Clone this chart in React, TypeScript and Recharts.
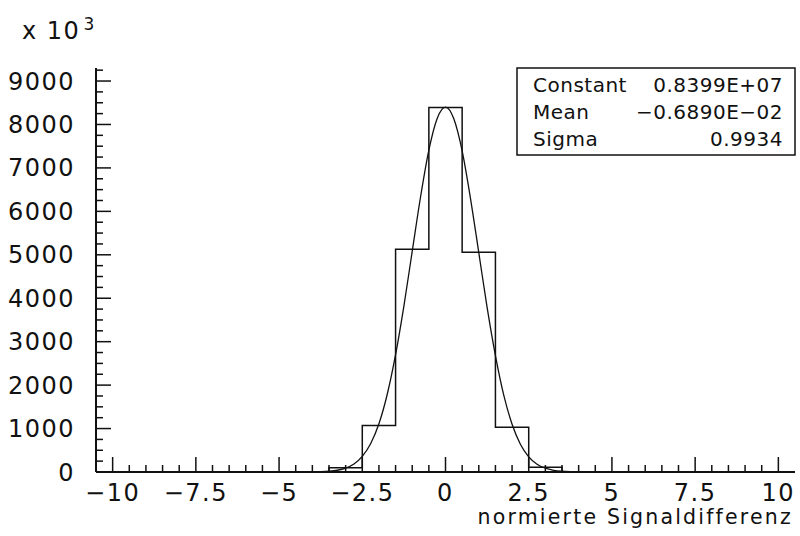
import { Line, LineChart, XAxis, YAxis } from 'recharts';

// histogram bins (width 1), counts in units of 10^3
const binEdges = [-3.5, -2.5, -1.5, -0.5, 0.5, 1.5, 2.5, 3.5];
const binCounts = [100, 1070, 5130, 8390, 5060, 1030, 110];

// gaussian fit curve
const fitX = [
  -4, -3.75, -3.5, -3.25, -3, -2.75, -2.5, -2.25, -2, -1.75, -1.5, -1.25, -1,
  -0.75, -0.5, -0.25, 0, 0.25, 0.5, 0.75, 1, 1.25, 1.5, 1.75, 2, 2.25, 2.5,
  2.75, 3, 3.25, 3.5, 3.75, 4,
];
const fitY = [
  3, 7, 17, 40, 90, 185, 360, 650, 1110, 1790, 2700, 3820, 5080, 6330, 7410,
  8140, 8399, 8130, 7390, 6300, 5050, 3790, 2680, 1770, 1100, 640, 350, 180,
  87, 39, 17, 7, 3,
];

const xMajor = [-10, -7.5, -5, -2.5, 0, 2.5, 5, 7.5, 10];
const yMajor = [0, 1000, 2000, 3000, 4000, 5000, 6000, 7000, 8000, 9000];
const xMinorStep = 0.5;
const yMinorStep = 250;

const statsRows = [
  ['Constant', '0.8399E+07'],
  ['Mean', '\u22120.6890E\u221202'],
  ['Sigma', '0.9934'],
];

const FONT = '"DejaVu Sans", sans-serif';
const INK = '#111';

const histData = [
  { x: binEdges[0], y: 0 },
  ...binCounts.map((c, i) => ({ x: binEdges[i], y: c })),
  { x: binEdges[binEdges.length - 1], y: 0 },
];
const fitData = fitX.map((x, i) => ({ x, y: fitY[i] }));

const xTicks = Array.from({ length: 41 }, (_, i) => -10 + i * xMinorStep);
const yTicks = Array.from({ length: 38 }, (_, i) => i * yMinorStep);

const fmt = (v: number) => (v < 0 ? '\u2212' + String(-v) : String(v));

function XTick(props: any) {
  const { x, y, payload } = props;
  const major = xMajor.includes(payload.value);
  return (
    <g>
      <line x1={x} x2={x} y1={y} y2={y - (major ? 15 : 7)} stroke={INK} strokeWidth={1.5} />
      {major && (
        <text x={x} y={y + 29} textAnchor="middle" fontFamily={FONT} fontSize={24} letterSpacing={1.5} fill={INK}>
          {fmt(payload.value)}
        </text>
      )}
    </g>
  );
}

function YTick(props: any) {
  const { x, y, payload } = props;
  const major = yMajor.includes(payload.value);
  return (
    <g>
      <line x1={x} x2={x + (major ? 15 : 7)} y1={y} y2={y} stroke={INK} strokeWidth={1.5} />
      {major && (
        <text x={x - 21} y={y + 8.5} textAnchor="end" fontFamily={FONT} fontSize={24} letterSpacing={1.5} fill={INK}>
          {payload.value}
        </text>
      )}
    </g>
  );
}

export default function App() {
  return (
    <div style={{ position: 'absolute', left: 0, top: 0, width: 800, height: 536, background: '#fff' }}>
      <LineChart width={800} height={536} margin={{ top: 68, right: 5, left: 0, bottom: 0 }}>
        <XAxis
          dataKey="x"
          type="number"
          domain={[-10.5, 10.5]}
          ticks={xTicks}
          interval={0}
          allowDataOverflow
          height={64}
          tickSize={0}
          tickMargin={0}
          tick={<XTick />}
          axisLine={{ stroke: INK, strokeWidth: 2 }}
        />
        <XAxis
          xAxisId="top"
          orientation="top"
          type="number"
          domain={[-10.5, 10.5]}
          height={0}
          tick={false}
          tickLine={false}
          axisLine={{ stroke: INK, strokeWidth: 2 }}
        />
        <YAxis
          type="number"
          domain={[0, 9300]}
          ticks={yTicks}
          interval={0}
          allowDataOverflow
          width={96}
          tickSize={0}
          tickMargin={0}
          tick={<YTick />}
          axisLine={{ stroke: INK, strokeWidth: 2 }}
        />
        <YAxis
          yAxisId="right"
          orientation="right"
          type="number"
          domain={[0, 9300]}
          width={0}
          tick={false}
          tickLine={false}
          axisLine={{ stroke: INK, strokeWidth: 1.5 }}
        />
        <Line
          data={histData}
          dataKey="y"
          type="stepAfter"
          stroke={INK}
          strokeWidth={1.5}
          dot={false}
          activeDot={false}
          isAnimationActive={false}
        />
        <Line
          data={fitData}
          dataKey="y"
          type="monotone"
          stroke={INK}
          strokeWidth={1.3}
          dot={false}
          activeDot={false}
          isAnimationActive={false}
        />
      </LineChart>
      <svg
        width={800}
        height={536}
        style={{ position: 'absolute', left: 0, top: 0, pointerEvents: 'none' }}
        fontFamily={FONT}
        fill={INK}
      >
        <text x={22} y={39} fontSize={24} letterSpacing={1.5}>
          x 10
          <tspan dx={3} dy={-9} fontSize={17}>
            3
          </tspan>
        </text>
        <rect x={517} y={68} width={278} height={87} fill="#fff" stroke={INK} strokeWidth={1.5} />
        {statsRows.map(([k, v], i) => (
          <g key={k}>
            <text x={533} y={92 + i * 27} fontSize={20} letterSpacing={0.5}>
              {k}
            </text>
            <text x={783} y={92 + i * 27} fontSize={20} letterSpacing={0.5} textAnchor="end">
              {v}
            </text>
          </g>
        ))}
        <text x={793} y={524} fontSize={20.5} letterSpacing={2.2} textAnchor="end">
          normierte Signaldifferenz
        </text>
      </svg>
    </div>
  );
}
